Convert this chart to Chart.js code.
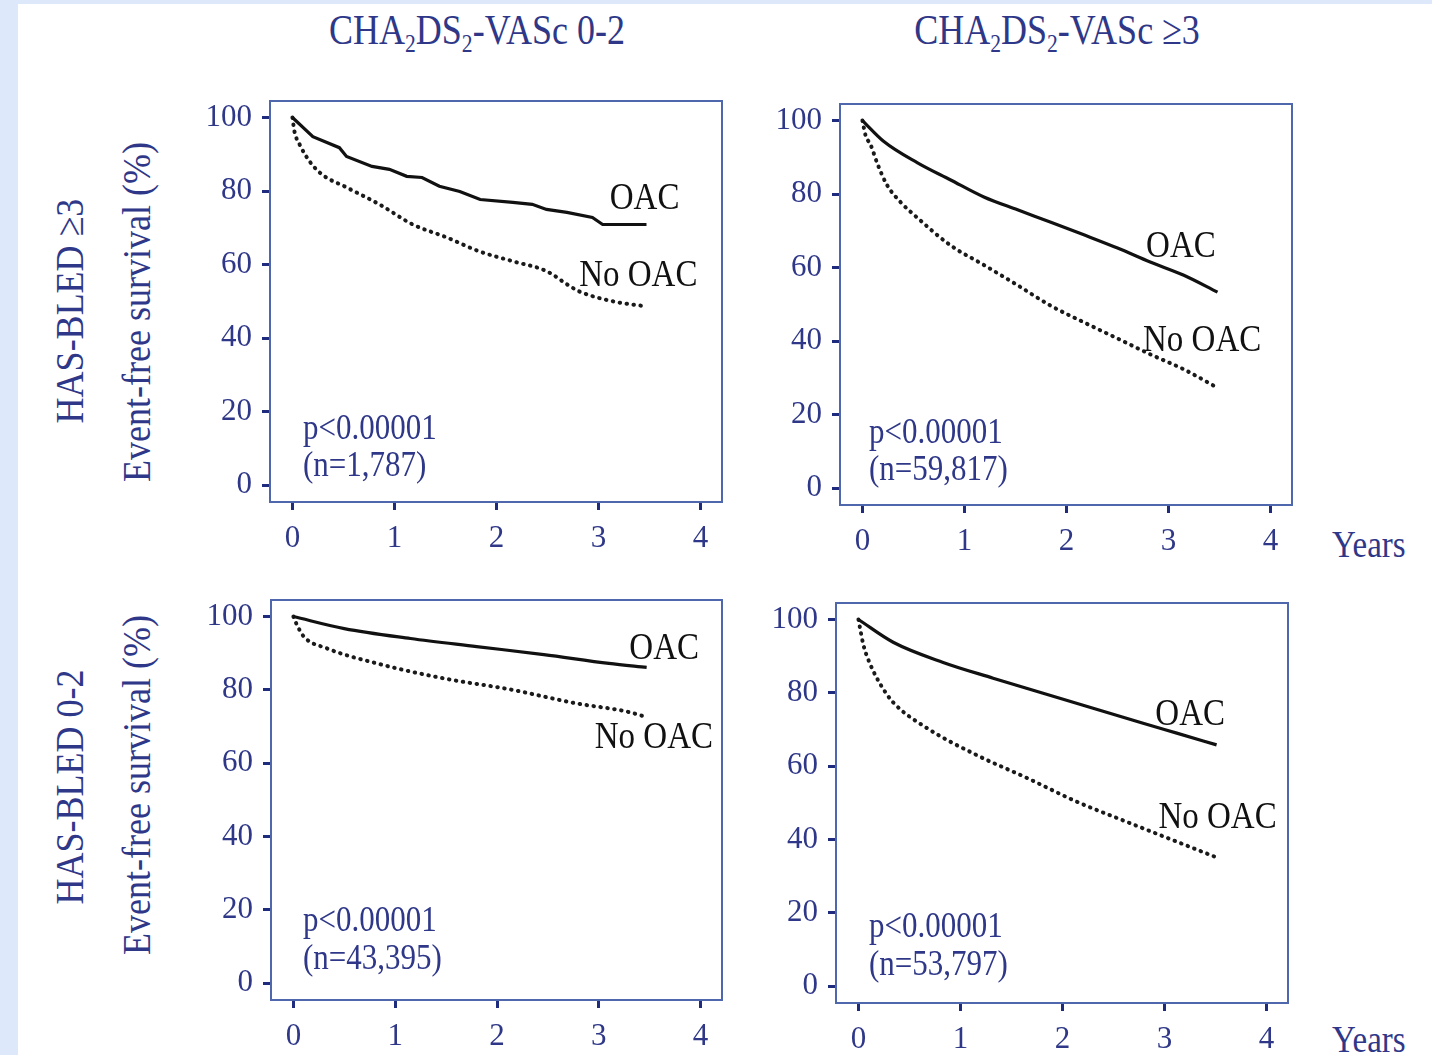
<!DOCTYPE html>
<html>
<head>
<meta charset="utf-8">
<script src="https://cdn.jsdelivr.net/npm/chart.js@4.4.1/dist/chart.umd.min.js"></script>
<style>
  html, body { margin: 0; padding: 0; }
  body { width: 1432px; height: 1055px; background: #dde9fa; position: relative; overflow: hidden;
         font-family: 'Liberation Serif', 'Times New Roman', serif; color: #2f3888; }
  #sheet { position: absolute; left: 18px; top: 4px; width: 1414px; height: 1051px; background: #fff; }
  canvas { position: absolute; }
  .lbl { position: absolute; white-space: nowrap; line-height: 1; }
  .title { font-size: 36px; transform: translate(-50%, -50%) scaleY(1.18); }
  .title sub { font-size: 0.6em; vertical-align: -0.3em; }
  .rot { font-size: 36px; transform: translate(-50%, -50%) rotate(-90deg) scaleY(1.12); }
  .years { font-size: 33px; transform: translate(0, -50%) scaleY(1.15); }
</style>
</head>
<body>
<div id="sheet"></div>

<div class="lbl title" style="left:477px; top:33px;">CHA<sub>2</sub>DS<sub>2</sub>-VASc 0-2</div>
<div class="lbl title" style="left:1057px; top:33px;">CHA<sub>2</sub>DS<sub>2</sub>-VASc ≥3</div>

<div class="lbl rot" style="left:70px; top:311px;">HAS-BLED ≥3</div>
<div class="lbl rot" style="left:137px; top:312px;">Event-free survival (%)</div>
<div class="lbl rot" style="left:70px; top:787px;">HAS-BLED 0-2</div>
<div class="lbl rot" style="left:137px; top:785px;">Event-free survival (%)</div>

<div class="lbl years" style="left:1332px; top:545px;">Years</div>
<div class="lbl years" style="left:1332px; top:1040px;">Years</div>

<canvas id="tl"></canvas>
<canvas id="tr"></canvas>
<canvas id="bl"></canvas>
<canvas id="br"></canvas>

<script>
const xTicks = [0, 1, 2, 3, 4];
const yTicks = [0, 20, 40, 60, 80, 100];

// HAS-BLED >=3, CHA2DS2-VASc 0-2
const tlYearsOac = [0, 0.2, 0.46, 0.53, 0.78, 0.95, 1.12, 1.27, 1.44, 1.64, 1.84, 2.16, 2.35, 2.49, 2.69, 2.94, 3.04, 3.47];
const tlOac      = [100, 94.8, 91.8, 89.4, 86.7, 85.9, 84.0, 83.7, 81.3, 79.9, 77.7, 76.9, 76.4, 75.0, 74.2, 72.8, 70.9, 70.9];
const tlYearsNoOac = [0, 0.02, 0.07, 0.17, 0.29, 0.53, 0.85, 1.18, 1.51, 1.83, 2.16, 2.49, 2.72, 2.81, 3.14, 3.47];
const tlNoOac      = [100, 96.2, 92.7, 88.0, 84.5, 81.0, 76.4, 70.9, 67.4, 63.6, 60.9, 58.2, 54.1, 52.7, 50.0, 48.6];

// HAS-BLED >=3, CHA2DS2-VASc >=3
const trYearsOac = [0, 0.21, 0.54, 0.86, 1.19, 1.52, 1.84, 2.17, 2.5, 2.82, 3.15, 3.48];
const trOac      = [100, 94.3, 88.5, 83.9, 79.2, 75.7, 72.4, 68.9, 65.3, 61.5, 57.9, 53.3];
const trYearsNoOac = [0, 0.03, 0.08, 0.15, 0.24, 0.37, 0.54, 0.86, 1.19, 1.52, 1.84, 2.17, 2.5, 2.82, 3.15, 3.44];
const trNoOac      = [100, 96.0, 93.4, 88.0, 82.5, 77.9, 73.5, 66.1, 60.7, 55.2, 49.7, 45.1, 40.7, 36.4, 32.3, 27.9];

// HAS-BLED 0-2, CHA2DS2-VASc 0-2
const blYearsOac = [0, 0.5, 1.15, 1.8, 2.46, 3.1, 3.47];
const blOac      = [100, 96.7, 94.0, 91.8, 89.6, 87.2, 86.1];
const blYearsNoOac = [0, 0.03, 0.1, 0.33, 0.82, 1.48, 2.13, 2.78, 3.27, 3.44];
const blNoOac      = [100, 98.0, 94.6, 91.3, 87.2, 83.1, 80.1, 76.3, 74.1, 72.8];

// HAS-BLED 0-2, CHA2DS2-VASc >=3
const brYearsOac = [0, 0.34, 0.83, 1.32, 1.81, 2.3, 2.79, 3.12, 3.51];
const brOac      = [100, 93.8, 88.3, 84.0, 79.9, 75.8, 71.7, 69.0, 65.8];
const brYearsNoOac = [0, 0.02, 0.05, 0.12, 0.22, 0.34, 0.67, 1.16, 1.65, 2.14, 2.63, 3.12, 3.51];
const brNoOac      = [100, 97.0, 92.9, 87.5, 82.1, 77.4, 70.4, 63.0, 56.8, 50.3, 44.8, 39.4, 35.1];

const pValues = ['p<0.00001', 'p<0.00001', 'p<0.00001', 'p<0.00001'];
const sampleSizes = ['(n=1,787)', '(n=59,817)', '(n=43,395)', '(n=53,797)'];

const NAVY = '#2f3888';
const BOX = '#4f67ad';
const TICK = '#1f2c7e';
const SERIF = '"Liberation Serif", "Times New Roman", serif';
const AXIS_W = 75;
const AXIS_H = 55;
const PAD = 12;

const pts = (xs, ys) => xs.map((x, i) => ({ x: x, y: ys[i] }));

// box = [left, top, width, height] of the framed plot area on the page
const panels = [
  { id: 'tl', box: [270, 101, 452, 401], oac: pts(tlYearsOac, tlOac), noOac: pts(tlYearsNoOac, tlNoOac),
    jagged: true, oacAt: [3.11, 77.7], noOacAt: [2.81, 57.0], note: [33, -72, -35] },
  { id: 'tr', box: [840, 104, 452, 401], oac: pts(trYearsOac, trOac), noOac: pts(trYearsNoOac, trNoOac),
    jagged: false, oacAt: [2.78, 65.6], noOacAt: [2.75, 39.9], note: [29, -71, -34] },
  { id: 'bl', box: [271, 600, 451, 400], oac: pts(blYearsOac, blOac), noOac: pts(blYearsNoOac, blNoOac),
    jagged: false, oacAt: [3.30, 91.0], noOacAt: [2.96, 66.8], note: [32, -78, -40] },
  { id: 'br', box: [836, 603, 452, 400], oac: pts(brYearsOac, brOac), noOac: pts(brYearsNoOac, brNoOac),
    jagged: false, oacAt: [2.91, 73.9], noOacAt: [2.94, 45.9], note: [33, -75, -37] }
];

const panelDecor = {
  id: 'panelDecor',
  afterDraw(chart, args, o) {
    const { ctx, chartArea: a, scales: { x, y } } = chart;
    ctx.save();
    ctx.strokeStyle = BOX;
    ctx.lineWidth = 2;
    ctx.strokeRect(a.left, a.top, a.right - a.left, a.bottom - a.top);

    const put = (txt, px, py, size, color) => {
      ctx.save();
      ctx.translate(px, py);
      ctx.scale(1, 1.15);
      ctx.font = size + 'px ' + SERIF;
      ctx.fillStyle = color;
      ctx.textAlign = 'left';
      ctx.textBaseline = 'middle';
      ctx.fillText(txt, 0, 0);
      ctx.restore();
    };
    put('OAC', x.getPixelForValue(o.oacAt[0]), y.getPixelForValue(o.oacAt[1]), 33, '#111');
    put('No OAC', x.getPixelForValue(o.noOacAt[0]), y.getPixelForValue(o.noOacAt[1]), 33, '#111');
    put(o.p, a.left + o.note[0], a.bottom + o.note[1], 31, NAVY);
    put(o.n, a.left + o.note[0], a.bottom + o.note[2], 31, NAVY);
    ctx.restore();
  }
};

panels.forEach((p, i) => {
  const [left, top, w, h] = p.box;
  const canvas = document.getElementById(p.id);
  canvas.width = w + AXIS_W + PAD;
  canvas.height = h + PAD + AXIS_H;
  canvas.style.left = (left - AXIS_W) + 'px';
  canvas.style.top = (top - PAD) + 'px';

  const tickFont = { family: SERIF, size: 31 };
  const grid = { display: true, drawOnChartArea: false, drawTicks: true, tickLength: 8, tickWidth: 3, tickColor: TICK };
  const border = { display: true, color: BOX, width: 2 };

  new Chart(canvas.getContext('2d'), {
    type: 'line',
    data: {
      datasets: [
        { label: 'OAC', data: p.oac, borderColor: '#111', borderWidth: 3.2,
          tension: p.jagged ? 0 : 0.4, cubicInterpolationMode: p.jagged ? 'default' : 'monotone',
          pointRadius: 0, fill: false },
        { label: 'No OAC', data: p.noOac, borderColor: '#1a1a1a', borderWidth: 4,
          borderDash: [0.5, 6.5], borderCapStyle: 'round',
          cubicInterpolationMode: 'monotone', pointRadius: 0, fill: false }
      ]
    },
    options: {
      responsive: false,
      animation: false,
      events: [],
      layout: { padding: { top: PAD, right: PAD, left: 0, bottom: 0 } },
      plugins: {
        legend: { display: false },
        tooltip: { enabled: false },
        panelDecor: { oacAt: p.oacAt, noOacAt: p.noOacAt, note: p.note, p: pValues[i], n: sampleSizes[i] }
      },
      scales: {
        x: {
          type: 'linear', min: -0.22, max: 4.21,
          afterBuildTicks: s => { s.ticks = xTicks.map(v => ({ value: v })); },
          afterFit: s => { s.height = AXIS_H; s.paddingLeft = 0; s.paddingRight = 0; },
          grid: grid, border: border,
          ticks: { font: tickFont, color: NAVY, padding: 10, maxRotation: 0, autoSkip: false }
        },
        y: {
          type: 'linear', min: -4.6, max: 104.5,
          afterBuildTicks: s => { s.ticks = yTicks.map(v => ({ value: v })); },
          afterFit: s => { s.width = AXIS_W; s.paddingTop = 0; s.paddingBottom = 0; },
          grid: grid, border: border,
          ticks: { font: tickFont, color: NAVY, padding: 10, autoSkip: false }
        }
      }
    },
    plugins: [panelDecor]
  });
});
</script>
</body>
</html>
